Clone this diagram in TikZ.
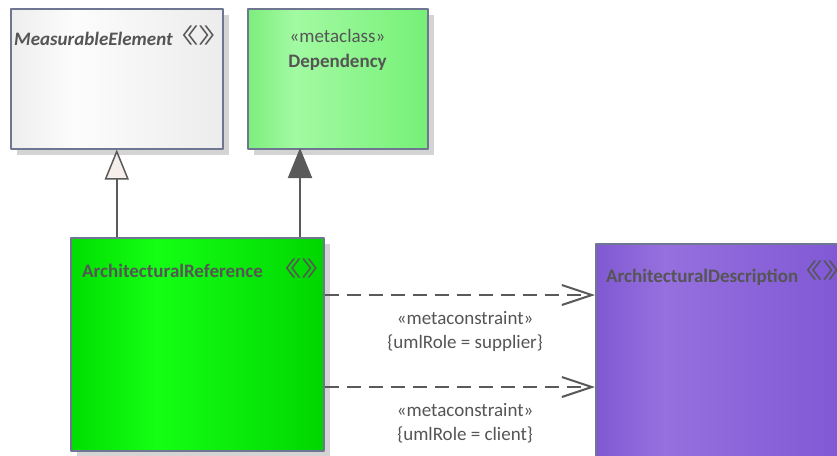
\documentclass[tikz,border=0pt]{standalone}
\usepackage{graphicx}
\usepackage{fontspec}
\setmainfont{Carlito}
\newfontfamily\cjk{Noto Sans CJK SC}
\usetikzlibrary{arrows.meta, positioning, calc, shadows}

\definecolor{inkgray}{RGB}{85,85,85}
\definecolor{boxedge}{RGB}{110,118,145}
\definecolor{shadowgray}{RGB}{212,212,212}
\definecolor{hollowfill}{RGB}{246,238,234}
\definecolor{lineGray}{RGB}{90,90,90}

\definecolor{measA}{RGB}{238,238,238}
\definecolor{measB}{RGB}{252,252,252}
\definecolor{measC}{RGB}{236,236,236}
\definecolor{depA}{RGB}{124,238,124}
\definecolor{depB}{RGB}{162,250,162}
\definecolor{depC}{RGB}{118,240,118}
\definecolor{refA}{RGB}{0,222,0}
\definecolor{refB}{RGB}{20,255,20}
\definecolor{refC}{RGB}{0,214,0}
\definecolor{descA}{RGB}{128,88,210}
\definecolor{descB}{RGB}{150,112,222}
\definecolor{descC}{RGB}{126,86,212}

\pgfdeclarehorizontalshading{measshade}{100bp}{color(0bp)=(measA); color(25bp)=(measA);
  color(40bp)=(measB); color(75bp)=(measC); color(100bp)=(measC)}
\pgfdeclarehorizontalshading{depshade}{100bp}{color(0bp)=(depA); color(25bp)=(depA);
  color(38bp)=(depB); color(75bp)=(depC); color(100bp)=(depC)}
\pgfdeclarehorizontalshading{refshade}{100bp}{color(0bp)=(refA); color(25bp)=(refA);
  color(42bp)=(refB); color(75bp)=(refC); color(100bp)=(refC)}
\pgfdeclarehorizontalshading{descshade}{100bp}{color(0bp)=(descA); color(25bp)=(descA);
  color(38bp)=(descB); color(75bp)=(descC); color(100bp)=(descC)}

\newcommand{\stereomark}{\scalebox{1.6}[1]{《》\kern-0.3em}}

\begin{document}
\begin{tikzpicture}[x=1pt, y=-1pt, line join=round,
    umlbox/.style={draw=boxedge, line width=1.5pt, anchor=north west, inner sep=0pt,
      general shadow={fill=shadowgray, shadow xshift=6pt, shadow yshift=-6pt}},
    boxname/.style={text=inkgray, font=\fontsize{19}{22}\selectfont\bfseries, inner sep=0pt, anchor=base west},
    stereo/.style={text=inkgray, font=\fontsize{19}{22}\selectfont, inner sep=0pt},
    guillemets/.style={text=inkgray, font=\cjk\fontsize{21}{24}\selectfont, inner sep=0pt, anchor=base west},
    generalize/.style={draw=lineGray, line width=2pt,
      -{Triangle[length=30pt, width=24pt, fill=hollowfill, line width=1.5pt]}},
    realize/.style={draw=lineGray, line width=2pt,
      -{Triangle[length=30pt, width=24pt, fill=lineGray]}},
    constraint/.style={draw=lineGray, line width=2pt, dash pattern=on 14pt off 8pt,
      -{Straight Barb[length=30pt, width=20pt, line width=2pt]}},
    rolelabel/.style={text=inkgray, font=\fontsize{19}{24}\selectfont, align=center, inner sep=0pt}]
  \useasboundingbox (0,0) rectangle (837,455);
  \clip (0,0) rectangle (837,455);
  \fill[white] (0,0) rectangle (837,455);

  % classes
  \node[umlbox, shading=measshade, minimum width=212pt, minimum height=140pt] (measelem) at (10,8) {};
  \node[umlbox, shading=depshade, minimum width=180pt, minimum height=140pt] (dependency) at (247,8) {};
  \node[umlbox, shading=refshade, minimum width=253pt, minimum height=213pt] (archref) at (70,237) {};
  \node[umlbox, shading=descshade, minimum width=262pt, minimum height=230pt] (archdesc) at (595,243) {};

  % class names
  \node[boxname, font=\fontsize{19}{22}\selectfont\bfseries\itshape] (measname) at (14,45) {MeasurableElement};
  \node[guillemets] at (165,43) {\stereomark};
  \node[stereo, anchor=base] (depstereo) at (337.5,42) {«metaclass»};
  \node[boxname, anchor=base] (depname) at (337.5,67) {Dependency};
  \node[boxname] (refname) at (82,277) {ArchitecturalReference};
  \node[guillemets] at (268,276) {\stereomark};
  \node[boxname] (descname) at (606,282) {ArchitecturalDescription};
  \node[guillemets] at (789,278) {\stereomark};

  % generalizations
  \coordinate (depfoot) at (300,148);
  \draw[generalize] (archref.north -| measelem.south) -- (measelem.south);
  \draw[realize] (depfoot |- archref.north) -- (depfoot);

  % metaconstraints
  \draw[constraint] (archref.east |- 0,295) -- (archdesc.west |- 0,295)
    node[rolelabel, pos=0.52, below=15pt] (supplier) {«metaconstraint»\\\{umlRole = supplier\}};
  \draw[constraint] (archref.east |- 0,387) -- (archdesc.west |- 0,387)
    node[rolelabel, pos=0.52, below=15pt] (client) {«metaconstraint»\\\{umlRole = client\}};
\end{tikzpicture}
\end{document}
